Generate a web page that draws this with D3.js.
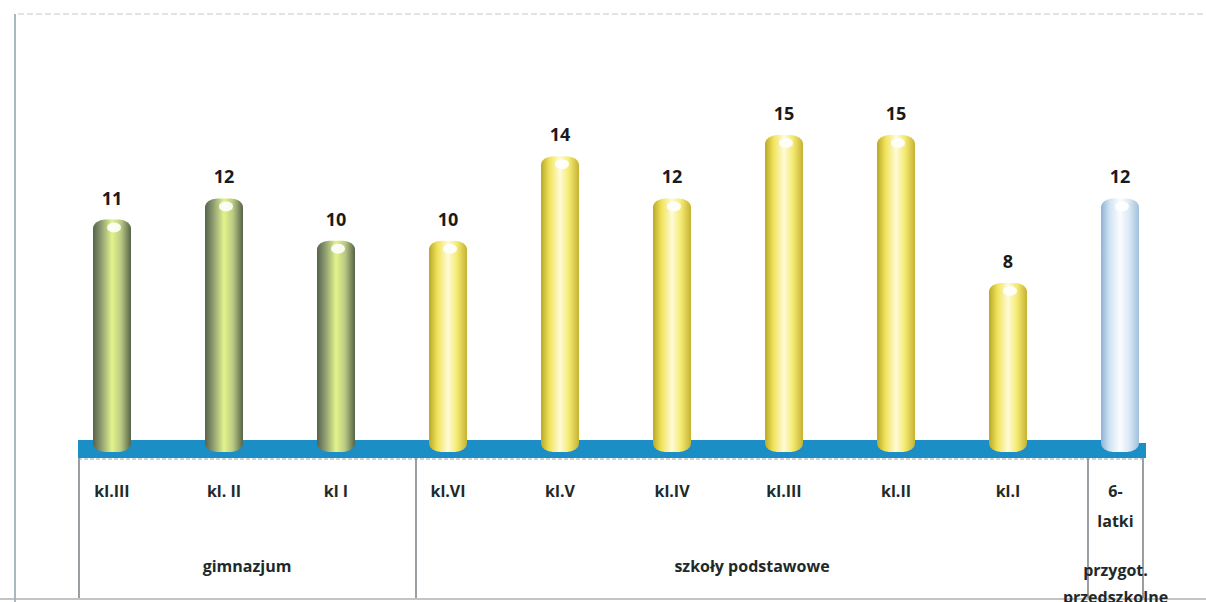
<!DOCTYPE html>
<html>
<head>
<meta charset="utf-8">
<script src="https://cdn.jsdelivr.net/npm/d3@7"></script>
<style>
  body { margin: 0; background: #fff; }
  svg { display: block; }
</style>
</head>
<body>
<script>
// data
const categories = ['kl.III', 'kl. II', 'kl I', 'kl.VI', 'kl.V', 'kl.IV', 'kl.III ', 'kl.II', 'kl.I', '6-latki'];
const values = [11, 12, 10, 10, 14, 12, 15, 15, 8, 12];
const groupOf = ['gim', 'gim', 'gim', 'sp', 'sp', 'sp', 'sp', 'sp', 'sp', 'pre'];
const groups = ['gim', 'sp', 'pre'];
const groupLabels = ['gimnazjum', 'szkoły podstawowe', 'przygot. przedszkolne'];

const width = 1206, height = 602;

const svg = d3.select('body').append('svg')
    .attr('width', width)
    .attr('height', height);

svg.append('rect')
    .attr('width', width)
    .attr('height', height)
    .attr('fill', '#fff');

const x = d3.scaleBand()
    .domain(categories)
    .range([56, 1176]);

const y = d3.scaleLinear()
    .domain([0, 15])
    .range([452, 135]);

const barW = 38;

// gradients for the cylinders
const palettes = {
    gim: ['#56634a', '#8f9d72', '#e2f48c', '#b9c983', '#56634a'],
    sp: ['#b9a82a', '#f0e35a', '#fffbd8', '#f4ea70', '#c5b232'],
    pre: ['#8fb3d4', '#cfe2f2', '#fbfdff', '#dbe9f5', '#a0c0dc']
};
const defs = svg.append('defs');
Object.entries(palettes).forEach(([key, cols]) => {
    const g = defs.append('linearGradient')
        .attr('id', 'grad-' + key)
        .attr('x1', 0).attr('x2', 1).attr('y1', 0).attr('y2', 0);
    [0, 0.22, 0.5, 0.74, 1].forEach((o, i) => {
        g.append('stop').attr('offset', o).attr('stop-color', cols[i]);
    });
});

// outer frame of the scan
svg.append('line')
    .attr('x1', 15).attr('x2', 15).attr('y1', 14).attr('y2', height)
    .attr('stroke', '#6f8a96').attr('stroke-width', 1.2);
svg.append('line')
    .attr('x1', 18).attr('x2', width).attr('y1', 14).attr('y2', 14)
    .attr('stroke', '#c8c8c8').attr('stroke-width', 1)
    .attr('stroke-dasharray', '6,3');

// floor band
const floorLeft = x(categories[0]) + x.bandwidth() / 2 - 34;
const floorRight = x(categories[categories.length - 1]) + x.bandwidth() / 2 + 26;
svg.append('path')
    .attr('d', `M${floorLeft},${y(0) - 12} L${floorRight - 8},${y(0) - 12} L${floorRight - 8},${y(0) - 9}
                L${floorRight},${y(0) - 9} L${floorRight},${y(0) + 6} L${floorLeft},${y(0) + 6} Z`)
    .attr('fill', '#1b8ec6');

// bars as cylinders
const bars = svg.append('g')
    .selectAll('g')
    .data(categories.map((c, i) => ({ c, v: values[i], g: groupOf[i] })))
    .join('g');

bars.append('rect')
    .attr('x', d => x(d.c) + x.bandwidth() / 2 - barW / 2)
    .attr('y', d => y(d.v))
    .attr('width', barW)
    .attr('height', d => y(0) - y(d.v))
    .attr('rx', 12)
    .attr('ry', 9)
    .attr('fill', d => `url(#grad-${d.g})`);

bars.append('ellipse')
    .attr('cx', d => x(d.c) + x.bandwidth() / 2 + 2)
    .attr('cy', d => y(d.v) + 8)
    .attr('rx', 7)
    .attr('ry', 5)
    .attr('fill', '#fff')
    .attr('opacity', 0.9);

bars.append('text')
    .attr('x', d => x(d.c) + x.bandwidth() / 2)
    .attr('y', d => y(d.v) - 15)
    .attr('text-anchor', 'middle')
    .style('font-family', '"Open Sans", sans-serif')
    .style('font-weight', 'bold')
    .style('font-size', '18px')
    .attr('fill', '#1a1a1a')
    .text(d => d.v);

// category table under the floor
const tableTop = y(0) + 6;
const tableBottom = 598;
const lineColor = '#555e66';
const firstOf = g => categories[groupOf.indexOf(g)];
const sepSp = x(firstOf('sp')) + x.bandwidth() / 2 - 32;
const preL = x(firstOf('pre')) + x.bandwidth() / 2 - 32;
const preR = x(firstOf('pre')) + x.bandwidth() / 2 + 23;

[floorLeft + 1, sepSp, preL, preR].forEach(xx => {
    svg.append('line')
        .attr('x1', xx).attr('x2', xx)
        .attr('y1', tableTop).attr('y2', tableBottom)
        .attr('stroke', lineColor).attr('stroke-width', 1.2);
});
svg.append('line')
    .attr('x1', floorLeft).attr('x2', floorRight)
    .attr('y1', tableTop + 1).attr('y2', tableTop + 1)
    .attr('stroke', '#9aa6ae').attr('stroke-width', 1).attr('stroke-dasharray', '4,2');
svg.append('line')
    .attr('x1', 0).attr('x2', width)
    .attr('y1', tableBottom + 1).attr('y2', tableBottom + 1)
    .attr('stroke', '#b0b0b0').attr('stroke-width', 1.5);

const labelStyle = sel => sel
    .style('font-family', '"Open Sans", sans-serif')
    .style('font-weight', 'bold')
    .style('font-size', '16px')
    .attr('fill', '#1e2a2a');

// category labels
svg.append('g')
    .selectAll('text')
    .data(categories.slice(0, -1))
    .join('text')
    .attr('x', d => x(d) + x.bandwidth() / 2)
    .attr('y', 497)
    .attr('text-anchor', 'middle')
    .call(labelStyle)
    .text(d => d.trim());

const preText = svg.append('text')
    .attr('text-anchor', 'middle')
    .call(labelStyle);
preText.selectAll('tspan')
    .data(['6-', 'latki'])
    .join('tspan')
    .attr('x', (preL + preR) / 2)
    .attr('y', (d, i) => 497 + i * 30)
    .text(d => d);

// group labels
const groupCenter = g => {
    if (g === 'gim') return (floorLeft + sepSp) / 2;
    if (g === 'sp') return (sepSp + preL) / 2;
    return (preL + preR) / 2;
};
groups.forEach((g, i) => {
    const t = svg.append('text')
        .attr('text-anchor', 'middle')
        .call(labelStyle);
    if (g === 'pre') {
        const words = groupLabels[i].split(' ');
        t.selectAll('tspan')
            .data(words)
            .join('tspan')
            .attr('x', groupCenter(g))
            .attr('y', (d, k) => 576 + k * 27)
            .text(d => d);
    } else {
        t.attr('x', groupCenter(g))
            .attr('y', 572)
            .text(groupLabels[i]);
    }
});
</script>
</body>
</html>
